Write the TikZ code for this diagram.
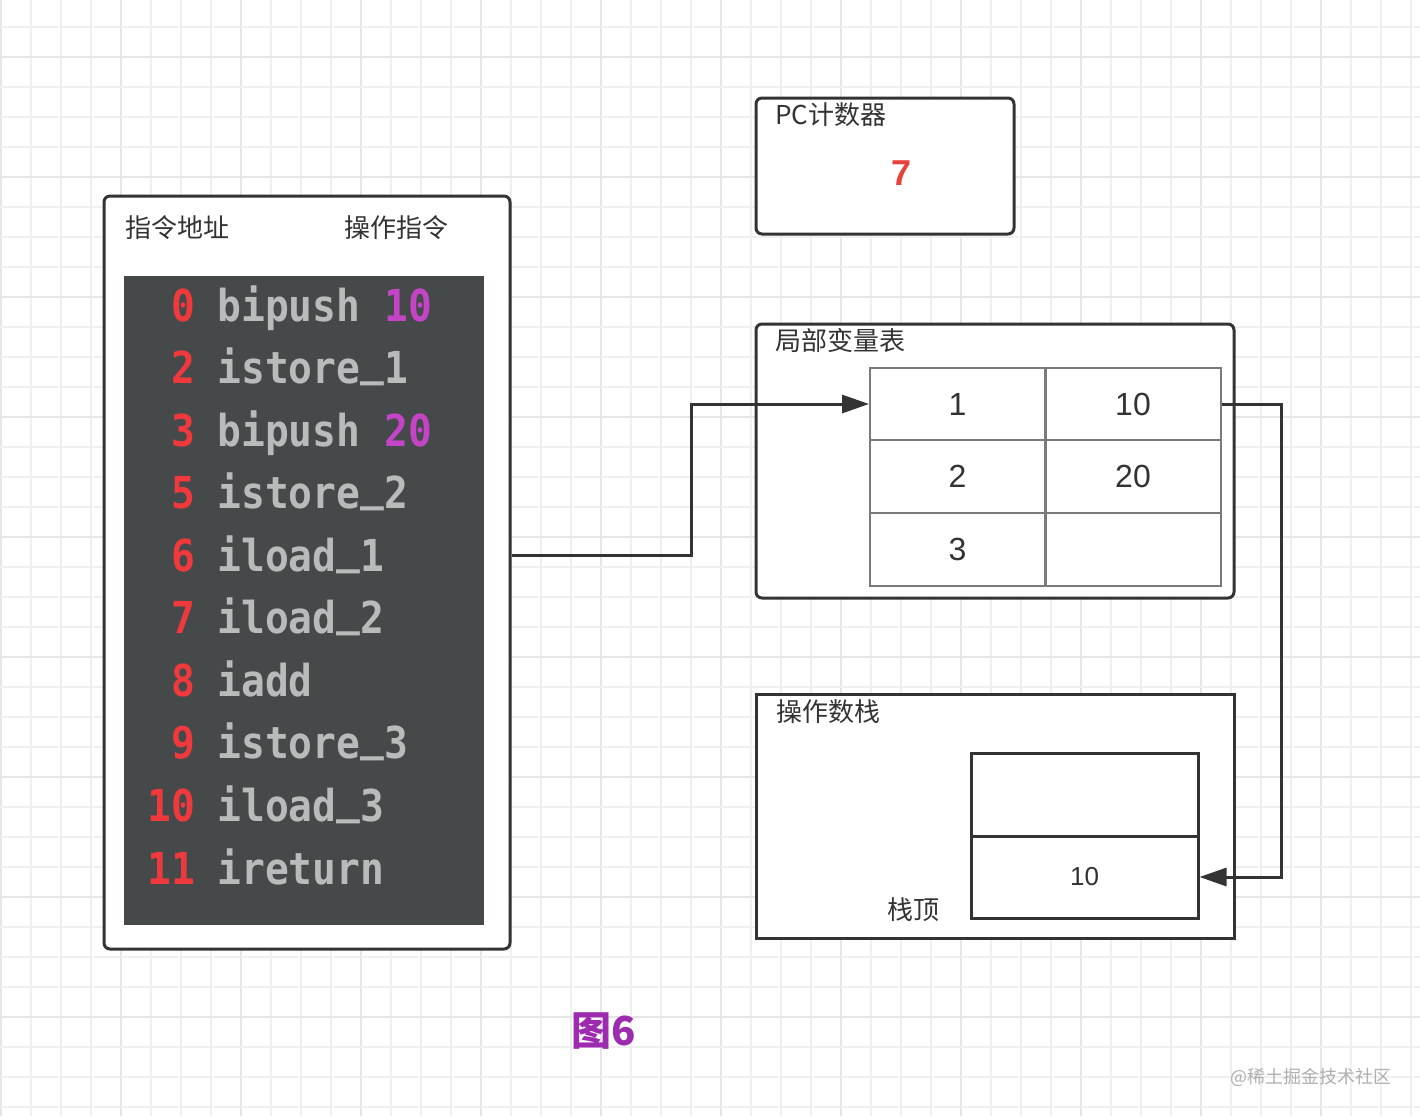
\documentclass[tikz,border=0pt]{standalone}
\usepackage{fontspec}
\setmainfont{Liberation Sans}
\newfontfamily\cjk{Noto Sans CJK SC}
\newfontfamily\codefont[FakeStretch=0.9]{DejaVu Sans Mono}
\newcommand{\us}{\raisebox{4pt}{\_}}
\usetikzlibrary{arrows.meta}
\definecolor{ink}{HTML}{333333}
\definecolor{gridminor}{HTML}{EFEFEF}
\definecolor{gridmajor}{HTML}{E6E6E6}
\definecolor{codebg}{HTML}{46494A}
\definecolor{codegray}{HTML}{B9BABA}
\definecolor{codered}{HTML}{F0393C}
\definecolor{codemag}{HTML}{C344C5}
\definecolor{pcred}{HTML}{E8403A}
\definecolor{tblgray}{HTML}{7A7A7A}
\definecolor{figpurple}{HTML}{9C2BAF}
\definecolor{wmgray}{HTML}{AFAFAF}
\tikzset{
  boxframe/.style={draw=ink, line width=1.5pt, fill=white, rounded corners=3pt, inner sep=0pt},
  plainframe/.style={draw=ink, line width=1.5pt, fill=white, inner sep=0pt},
  tcell/.style={draw=tblgray, line width=1pt, minimum width=87.5pt, minimum height=36.3pt, inner sep=0pt, font=\fontsize{16}{18}\selectfont, text=ink},
  scell/.style={draw=ink, line width=1.5pt, minimum width=113.5pt, inner sep=0pt, font=\fontsize{13}{15}\selectfont, text=ink},
  lbl/.style={inner sep=0pt, anchor=west, font=\cjk\fontsize{13}{15}\selectfont, text=ink},
  codenum/.style={inner sep=0pt, anchor=base east, font=\codefont\bfseries\fontsize{22}{24}\selectfont, text=codered},
  codeins/.style={inner sep=0pt, anchor=base west, font=\codefont\bfseries\fontsize{22}{24}\selectfont, text=codegray},
  conn/.style={draw=ink, line width=1.5pt, -{Triangle[length=13.5pt,width=9pt]}},
}
\begin{document}
\begin{tikzpicture}[x=0.5pt,y=-0.5pt]
\useasboundingbox (0,0) rectangle (1420,1116);
\fill[white] (0,0) rectangle (1420,1116);
% grid
\foreach \i in {0,...,47} {
  \pgfmathtruncatemacro{\m}{mod(\i,4)}
  \ifnum\m=0
    \draw[gridmajor, line width=0.8pt] ({1+30*\i},0) -- ({1+30*\i},1116);
  \else
    \draw[gridminor, line width=0.7pt] ({1+30*\i},0) -- ({1+30*\i},1116);
  \fi
}
\foreach \j in {1,...,37} {
  \pgfmathtruncatemacro{\m}{mod(\j,4)}
  \ifnum\m=2
    \draw[gridmajor, line width=0.8pt] (0,{-3+30*\j}) -- (1420,{-3+30*\j});
  \else
    \draw[gridminor, line width=0.7pt] (0,{-3+30*\j}) -- (1420,{-3+30*\j});
  \fi
}

% left instruction box
\node[boxframe, minimum width=203pt, minimum height=376.5pt] (lbox) at (307,572.5) {};
\node[lbl] (hdraddr) at (125,228) {指令地址};
\node[lbl] (hdrop) at (344,228) {操作指令};
\node[fill=codebg, inner sep=0pt, minimum width=180pt, minimum height=324.5pt] (code) at (304,600.5) {};
\foreach \n/\ins [count=\k from 0] in {
  0/{bipush \textcolor{codemag}{10}},
  2/{istore\us1},
  3/{bipush \textcolor{codemag}{20}},
  5/{istore\us2},
  6/{iload\us1},
  7/{iload\us2},
  8/{iadd},
  9/{istore\us3},
  10/{iload\us3},
  11/{ireturn}} {
  \node[codenum] (num\k) at (196,{321+62.56*\k}) {\n};
  \node[codeins] (ins\k) at (217,{321+62.56*\k}) {\ins};
}

% PC counter
\node[boxframe, minimum width=129pt, minimum height=68pt] (pc) at (885,166) {};
\node[lbl] (pclbl) at (775,115) {PC计数器};
\node[inner sep=0pt, text=pcred, font=\bfseries\fontsize{18}{20}\selectfont] (pcval) at (902,173) {7};

% local variable table
\node[boxframe, minimum width=239pt, minimum height=137pt] (lvt) at (995,461) {};
\node[lbl] (lvtlbl) at (775,341) {局部变量表};
\node[tcell] (c11) at (957.5,404) {1};
\node[tcell] (c12) at (1133,404) {10};
\node[tcell] (c21) at (957.5,476.5) {2};
\node[tcell] (c22) at (1133,476.5) {20};
\node[tcell] (c31) at (957.5,549.5) {3};
\node[tcell] (c32) at (1133,549.5) {};

% operand stack
\node[plainframe, minimum width=239pt, minimum height=122pt] (stk) at (995,816) {};
\node[lbl] (stklbl) at (776,712) {操作数栈};
\node[scell, minimum height=41.5pt] (s1) at (1084.5,794.5) {};
\node[scell, minimum height=41pt] (s2) at (1084.5,877) {10};
\node[inner sep=0pt, font=\cjk\fontsize{13}{15}\selectfont, text=ink] (stop) at (913,910) {栈顶};

% connectors
\draw[conn] ([yshift=8.75pt]lbox.east) -- ++(180,0) |- (c11.west);
\draw[conn] (c12.east) -- ++(60,0) |- (s2.east);

% caption and watermark
\node[inner sep=0pt, text=figpurple, font=\cjk\bfseries\fontsize{20}{22}\selectfont] (cap) at (604,1031) {图6};
\node[inner sep=0pt, text=wmgray, font=\cjk\fontsize{9}{11}\selectfont] (wm) at (1311,1077) {@稀土掘金技术社区};
\end{tikzpicture}
\end{document}
